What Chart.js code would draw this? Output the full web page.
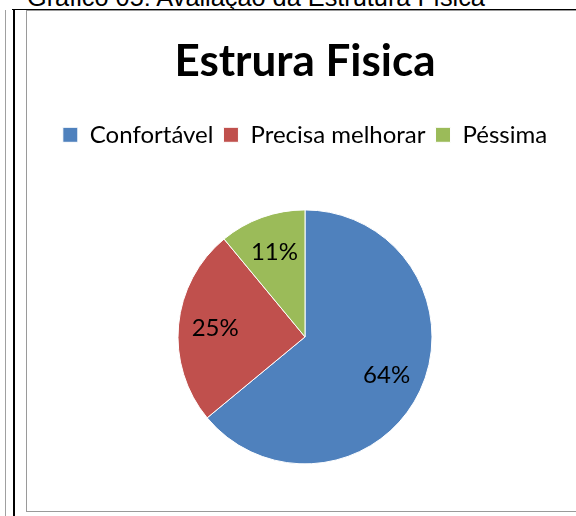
<!DOCTYPE html>
<html>
<head>
<meta charset="utf-8">
<script src="https://cdn.jsdelivr.net/npm/chart.js@4"></script>
<style>
  html, body { margin: 0; padding: 0; background: #fff; overflow: hidden; }
  body { width: 576px; height: 516px; position: relative; }
  #caption {
    position: absolute; left: 27px; top: -17px;
    font: 25.3px "Liberation Sans", Arial, sans-serif; color: #000; white-space: nowrap;
  }
  #topline { position: absolute; left: 12px; top: 9px; width: 600px; height: 1px; background: #000; }
  #v1 { position: absolute; left: 5px; top: 10px; width: 1px; height: 520px; background: #a0a0a0; }
  #v2 { position: absolute; left: 13px; top: 10px; width: 2px; height: 520px; background: #000; }
  #box {
    position: absolute; left: 26px; top: 10px; width: 556px; height: 500px;
    border: 1px solid #9a9a9a; border-right: none;
  }
  #pie { position: absolute; left: 0; top: 0; }
</style>
</head>
<body>
<div id="caption">Gráfico 05: Avaliação da Estrutura Física</div>
<div id="topline"></div>
<div id="v1"></div>
<div id="v2"></div>
<div id="box"><canvas id="pie" width="556" height="510"></canvas></div>
<script>
const categories = ["Confortável", "Precisa melhorar", "Péssima"];
const percentages = [64, 25, 11];
const sliceColors = ["#4F81BD", "#C0504D", "#9BBB59"];

// labels inside each slice
const sliceLabels = {
  id: "sliceLabels",
  afterDatasetsDraw(chart) {
    const ctx = chart.ctx;
    const meta = chart.getDatasetMeta(0);
    ctx.save();
    ctx.font = '24px Lato, "Open Sans", sans-serif';
    ctx.fillStyle = "#000";
    ctx.textAlign = "center";
    ctx.textBaseline = "middle";
    meta.data.forEach((arc, i) => {
      const p = arc.getProps(["x", "y", "startAngle", "endAngle", "outerRadius"], true);
      const mid = (p.startAngle + p.endAngle) / 2;
      const r = p.outerRadius * 0.71;
      ctx.fillText(percentages[i] + "%", p.x + Math.cos(mid) * r, p.y + Math.sin(mid) * r);
    });
    ctx.restore();
  },
};

new Chart(document.getElementById("pie"), {
  type: "pie",
  data: {
    labels: categories,
    datasets: [
      {
        data: percentages,
        backgroundColor: sliceColors,
        borderColor: "#ffffff",
        borderWidth: 1,
        radius: 127,
      },
    ],
  },
  options: {
    responsive: false,
    animation: false,
    layout: { padding: { top: 0, bottom: 4, left: 0, right: 0 } },
    plugins: {
      title: {
        display: true,
        text: "Estrura Fisica",
        color: "#000",
        font: { family: 'Lato, "Open Sans", sans-serif', size: 44, weight: "bold" },
        padding: { top: 24, bottom: 25 },
      },
      legend: {
        position: "top",
        labels: {
          color: "#000",
          font: { family: 'Lato, "Open Sans", sans-serif', size: 24 },
          boxWidth: 15,
          boxHeight: 15,
          padding: 10,
        },
      },
      tooltip: { enabled: false },
    },
  },
  plugins: [sliceLabels],
});
</script>
</body>
</html>
